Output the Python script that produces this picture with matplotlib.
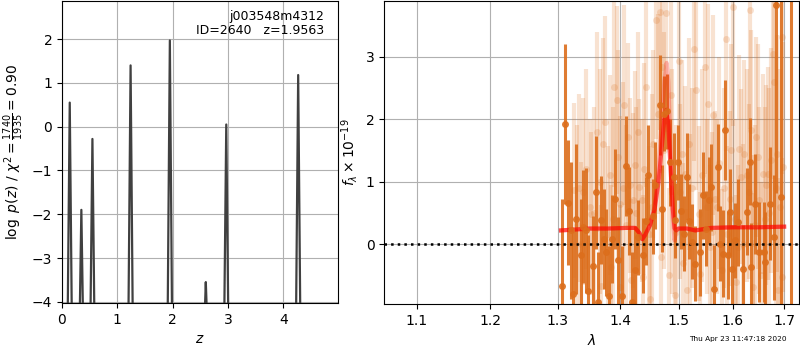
import matplotlib
matplotlib.use("Agg")
import matplotlib.pyplot as plt
from matplotlib.ticker import NullLocator, FixedLocator, FixedFormatter

# p(z) curve
z_grid = [0.0, 0.09, 0.14, 0.19, 0.30, 0.35, 0.40, 0.50, 0.55, 0.60,
          1.19, 1.24, 1.29, 1.90, 1.95, 2.00, 2.58, 2.60, 2.62,
          2.92, 2.97, 3.02, 4.22, 4.27, 4.32, 4.99]
logp = [-6, -6, 0.55, -6, -6, -1.90, -6, -6, -0.28, -6,
        -6, 1.40, -6, -6, 1.97, -6, -4.3, -3.55, -4.3,
        -6, 0.05, -6, -6, 1.18, -6, -6]

# binned spectrum (strong points)
wave = [1.3064, 1.3107, 1.316, 1.321, 1.3235, 1.328, 1.337, 1.340, 1.345, 1.3475,
        1.356, 1.361, 1.364, 1.369, 1.373, 1.377, 1.381, 1.387, 1.392, 1.397,
        1.403, 1.409, 1.414, 1.420, 1.425, 1.430, 1.438, 1.443, 1.446, 1.455,
        1.459, 1.467, 1.471, 1.475, 1.480, 1.485, 1.492, 1.493, 1.499, 1.504,
        1.509, 1.515, 1.518, 1.525, 1.530, 1.539, 1.545, 1.550, 1.556, 1.559,
        1.565, 1.571, 1.576, 1.582, 1.585, 1.591, 1.595, 1.598, 1.603, 1.609,
        1.619, 1.627, 1.633, 1.634, 1.642, 1.651, 1.659, 1.661, 1.672, 1.679,
        1.684, 1.694, 1.713]
flux = [-0.67, 1.93, 0.66, 0.22, -0.79, 0.40, -0.18, 0.28, 0.22, -0.75,
        -0.35, 0.83, -0.93, 0.39, 0.08, -0.13, -0.83, 0.08, 0.73, -0.26,
        -0.83, 1.25, 0.53, -0.93, -0.41, 0.11, -0.18, 0.37, 1.10, 0.45,
        0.94, 2.23, 0.57, 2.09, 2.13, 1.31, 1.08, 0.38, 1.31, 0.53,
        0.17, 1.08, 0.37, 0.04, -0.31, -0.13, 0.78, 0.25, 0.70, 0.91,
        -0.71, 1.23, 0.01, -0.15, 1.83, -0.17, 0.51, -0.39, 0.06, 0.35,
        -0.39, 0.52, 1.32, -0.36, 0.65, -0.13, -0.12, -0.29, 0.65, 0.11,
        3.82, 0.76, 4.50]
err = [1.39, 1.28, 1.0, 1.1, 1.0, 1.2, 0.9, 0.9, 1.0, 0.9,
       0.8, 0.9, 0.8, 0.7, 0.8, 0.7, 0.8, 0.7, 0.8, 0.7,
       0.8, 0.8, 0.7, 0.8, 0.7, 0.6, 0.6, 0.7, 0.8, 0.6,
       0.7, 0.8, 0.7, 0.6, 0.6, 0.7, 0.7, 0.6, 0.6, 0.6,
       0.6, 0.7, 0.6, 0.6, 0.6, 0.7, 0.7, 0.6, 0.7, 0.7,
       0.7, 0.7, 0.6, 0.7, 0.8, 0.7, 0.7, 0.7, 0.6, 0.7,
       0.7, 0.7, 0.7, 0.7, 0.8, 0.8, 0.8, 0.8, 0.9, 1.0,
       3.0, 3.2, 6.0]

# unbinned spectrum (faint points)
wave_u = [1.326, 1.336, 1.340, 1.350, 1.352, 1.362, 1.368, 1.375, 1.379, 1.385,
          1.390, 1.394, 1.399, 1.400, 1.407, 1.413, 1.417, 1.418, 1.422, 1.424,
          1.432, 1.436, 1.438, 1.443, 1.448, 1.451, 1.456, 1.461, 1.464, 1.468,
          1.469, 1.471, 1.478, 1.484, 1.486, 1.493, 1.500, 1.503, 1.506, 1.511,
          1.516, 1.521, 1.527, 1.532, 1.536, 1.539, 1.547, 1.551, 1.553, 1.557,
          1.562, 1.566, 1.570, 1.579, 1.587, 1.588, 1.594, 1.600, 1.606, 1.609,
          1.612, 1.616, 1.622, 1.631, 1.633, 1.634, 1.638, 1.639, 1.645, 1.650,
          1.654, 1.658, 1.664, 1.667, 1.673, 1.677, 1.680, 1.685, 1.688, 1.695,
          1.696, 1.698,
          1.330, 1.333, 1.345, 1.357, 1.366, 1.372, 1.383, 1.388, 1.396, 1.404,
          1.410, 1.427, 1.429, 1.440, 1.453, 1.474, 1.489, 1.496, 1.508, 1.518,
          1.524, 1.543, 1.560, 1.574, 1.583, 1.597, 1.603, 1.619, 1.626, 1.642,
          1.648, 1.661, 1.670, 1.683, 1.691]
flux_u = [0.86, 0.01, 0.84, 0.60, 0.49, 1.80, -0.67, 1.95, 0.17, -0.36,
          2.52, 2.31, -0.68, 0.65, 2.23, 1.72, 0.94, -0.58, 0.70, 1.27,
          0.92, 0.70, -0.52, 2.51, 0.17, -0.87, 1.60, 3.58, 2.09, 3.72,
          -0.20, 2.84, 3.70, -0.50, 2.39, -0.82, 2.93, 0.84, 1.45, 1.13,
          -0.74, 0.36, 3.13, 2.47, 0.49, -0.47, 2.83, 0.60, 2.25, -0.04,
          2.06, 0.73, 0.60, -0.42, 3.29, 0.17, 0.73, 3.79, -0.61, -0.04,
          1.53, 1.08, 1.45, 0.84, 3.74, 1.83, -0.68, 0.02, 1.71, 0.70,
          -0.50, 1.13, 0.94, 1.13, 1.34, 3.05, 2.60, 1.45, -0.74, 3.32,
          -0.52, 1.24,
          0.3, 0.9, 1.2, 0.5, 1.0, 1.6, 1.1, 0.4, 1.4, 0.9,
          0.3, 0.5, 1.8, 1.2, 0.6, 1.5, 1.0, 0.2, -0.3, 1.6,
          0.9, 1.1, 0.2, 1.3, 0.9, 1.5, 0.4, 0.0, 1.1, 0.3,
          1.4, 0.4, 0.5, 0.9, 0.6]
err_u = [1.4, 1.3, 1.5, 1.4, 1.3, 1.6, 1.3, 1.7, 1.4, 1.3,
         1.6, 1.5, 1.3, 1.4, 1.6, 1.5, 1.4, 1.3, 1.4, 1.5,
         1.4, 1.3, 1.3, 1.6, 1.4, 1.3, 1.5, 1.9, 1.6, 1.9,
         1.4, 1.7, 1.9, 1.4, 1.6, 1.4, 1.7, 1.4, 1.5, 1.4,
         1.3, 1.4, 1.8, 1.6, 1.4, 1.3, 1.7, 1.4, 1.6, 1.3,
         1.6, 1.4, 1.4, 1.3, 1.8, 1.4, 1.4, 1.9, 1.4, 1.3,
         1.5, 1.4, 1.5, 1.4, 1.9, 1.6, 1.5, 1.4, 1.6, 1.5,
         1.5, 1.6, 1.6, 1.7, 1.8, 2.0, 2.0, 1.9, 1.8, 2.2,
         1.9, 2.0,
         1.6, 1.5, 1.6, 1.7, 1.8, 1.7, 1.6, 1.8, 1.7, 1.7,
         1.6, 1.7, 1.6, 1.7, 1.8, 1.9, 1.8, 1.7, 1.6, 1.7,
         1.6, 1.7, 1.6, 1.7, 1.6, 1.7, 1.6, 1.6, 1.7, 1.6,
         1.8, 1.8, 2.0, 2.1, 2.2]

# best-fit model
model_wave = [1.305, 1.320, 1.350, 1.380, 1.410, 1.425, 1.432, 1.437, 1.442, 1.450,
              1.458, 1.465, 1.470, 1.475, 1.479, 1.482, 1.486, 1.490, 1.493, 1.496,
              1.500, 1.515, 1.530, 1.545, 1.560, 1.600, 1.650, 1.700]
model_flux = [0.22, 0.23, 0.25, 0.25, 0.26, 0.26, 0.18, 0.08, 0.15, 0.30,
              0.55, 1.00, 1.50, 2.00, 2.15, 1.90, 1.20, 0.55, 0.25, 0.22,
              0.25, 0.25, 0.22, 0.24, 0.26, 0.27, 0.27, 0.28]
model_flux_u = [0.22, 0.23, 0.25, 0.25, 0.26, 0.26, 0.18, 0.08, 0.15, 0.30,
                0.60, 1.20, 1.90, 2.60, 2.90, 2.60, 1.50, 0.40, 0.06, 0.22,
                0.25, 0.25, 0.22, 0.24, 0.26, 0.27, 0.27, 0.28]

tick_wave = [1.1, 1.2, 1.3, 1.4, 1.5, 1.6, 1.7]
orange = '#dc6e1c'

fig = plt.figure(figsize=(8, 3.5), dpi=100)

ax1 = fig.add_axes([0.0775, 0.134, 0.345, 0.863])
ax1.plot(z_grid, logp, color='0.25', lw=1.6)
ax1.set_xlim(0, 4.99)
ax1.set_ylim(-4.03, 2.87)
ax1.set_xticks([0, 1, 2, 3, 4])
ax1.set_yticks([-4, -3, -2, -1, 0, 1, 2])
ax1.grid()
ax1.set_xlabel(r'$z$')
ax1.set_ylabel(r'$\log\ p(z)$' + ' / ' + r'$\chi^2=\frac{1740}{1935}=0.90$')
ax1.text(0.95, 0.97, 'j003548m4312\nID=2640   z=1.9563', transform=ax1.transAxes,
         ha='right', va='top', fontsize=9, linespacing=1.1)

ax2 = fig.add_axes([0.4805, 0.131, 0.518, 0.866])
ax2.errorbar(wave_u, flux_u, yerr=err_u, fmt='o', color=orange, alpha=0.2,
             ms=5, elinewidth=3, mec='none')
ax2.errorbar(wave, flux, yerr=err, fmt='o', color=orange, alpha=0.9,
             ms=5, elinewidth=2.2, mec='none')
ax2.plot(model_wave, model_flux_u, color='r', alpha=0.25, lw=3)
ax2.plot(model_wave, model_flux, color='r', alpha=0.6, lw=3)
ax2.axhline(0, color='k', ls=':', lw=1.8)
ax2.set_xscale('log')
ax2.set_xlim(1.0586, 1.7298)
ax2.xaxis.set_major_locator(FixedLocator(tick_wave))
ax2.xaxis.set_major_formatter(FixedFormatter([str(t) for t in tick_wave]))
ax2.xaxis.set_minor_locator(NullLocator())
ax2.set_ylim(-0.96, 3.89)
ax2.set_yticks([0, 1, 2, 3])
ax2.grid()
ax2.set_xlabel(r'$\lambda$')
ax2.set_ylabel(r'$f_\lambda \times 10^{-19}$')

fig.text(0.983, 0.024, 'Thu Apr 23 11:47:18 2020', ha='right', va='bottom', fontsize=5.3)

fig.savefig('out.png', dpi=100)
